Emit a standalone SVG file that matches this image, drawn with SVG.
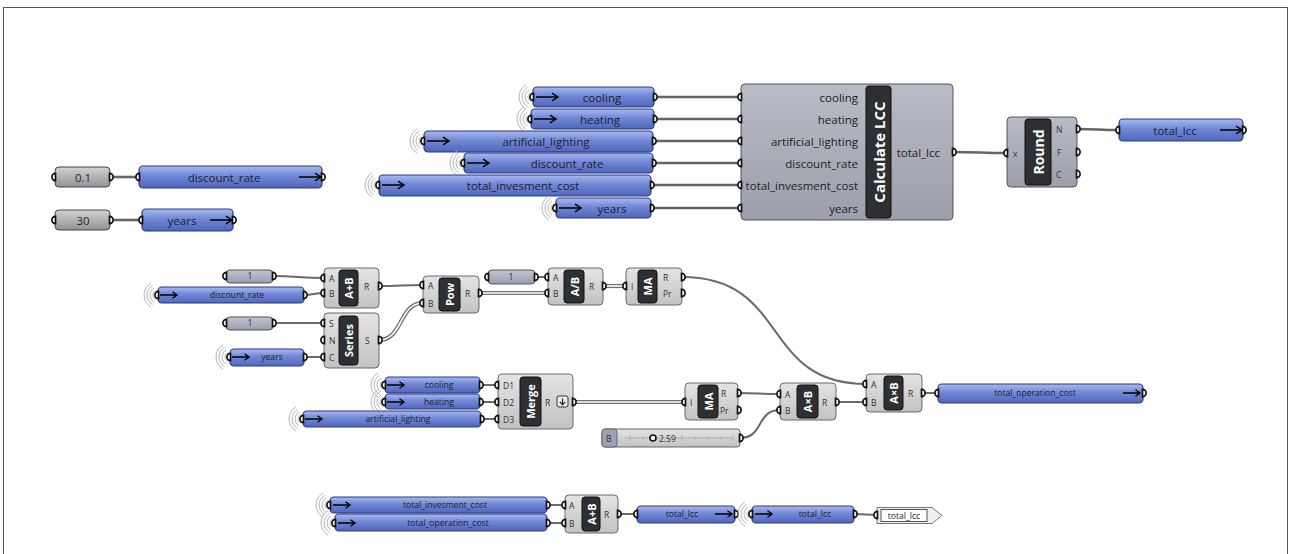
<svg xmlns="http://www.w3.org/2000/svg" width="1291" height="554" viewBox="0 0 1291 554">
<style>
text{font-family:"Open Sans","DejaVu Sans",sans-serif;fill:#1b1f33}
.pt{font-size:11.5px;text-anchor:middle;dominant-baseline:central}
.ps{font-size:8.6px;text-anchor:middle;dominant-baseline:central}
.cl{font-size:11.5px;text-anchor:end;dominant-baseline:central;fill:#222}
.gl{font-size:8.5px;dominant-baseline:central;fill:#333}
.bl{font-weight:bold;fill:#fff;text-anchor:middle;dominant-baseline:central}
.par{fill:url(#gBlue);stroke:#2a3a80;stroke-width:1.2}
.cmp{fill:url(#gComp);stroke:#6a6a6a;stroke-width:1}
.cmpd{fill:url(#gCompD);stroke:#555;stroke-width:1}
.num{fill:url(#gNum);stroke:#444;stroke-width:1}
.one{fill:url(#gOne);stroke:#555;stroke-width:1}
.bar{fill:#2e2f33;stroke:#111;stroke-width:1}
.w{fill:none;stroke:#666;stroke-width:2.6}
.ws{fill:none;stroke:#6a6a6a;stroke-width:2}
.wdo{fill:none;stroke:#707070;stroke-width:4.2}
.wdi{fill:none;stroke:#fff;stroke-width:1.6}
.g{fill:#fff;stroke:#111;stroke-width:1.7}
.ring{fill:none;stroke:#b5b5b5;stroke-width:1}
.ar{fill:none;stroke:#000;stroke-width:1.4}
</style>
<defs>
<linearGradient id="gBlue" x1="0" y1="0" x2="0" y2="1">
<stop offset="0" stop-color="#a9b9ee"/><stop offset="0.45" stop-color="#7187d6"/><stop offset="1" stop-color="#5066bb"/>
</linearGradient>
<linearGradient id="gComp" x1="0" y1="0" x2="0" y2="1">
<stop offset="0" stop-color="#e4e4e4"/><stop offset="1" stop-color="#c2c2c2"/>
</linearGradient>
<linearGradient id="gCompD" x1="0" y1="0" x2="0" y2="1">
<stop offset="0" stop-color="#b9bbc6"/><stop offset="1" stop-color="#9c9eab"/>
</linearGradient>
<linearGradient id="gNum" x1="0" y1="0" x2="0" y2="1">
<stop offset="0" stop-color="#d2d2d2"/><stop offset="1" stop-color="#939393"/>
</linearGradient>
<linearGradient id="gOne" x1="0" y1="0" x2="0" y2="1">
<stop offset="0" stop-color="#c3c5d4"/><stop offset="1" stop-color="#999bb0"/>
</linearGradient>
<g id="rings" class="ring">
<path d="M-2.5,-4.3 A5,5 0 0 0 -2.5,4.3"/>
<path d="M-4,-6.9 A8,8 0 0 0 -4,6.9"/>
<path d="M-5.5,-9.5 A11,11 0 0 0 -5.5,9.5"/>
<path d="M-7,-12.1 A14,14 0 0 0 -7,12.1"/>
</g>
<path id="gi" class="g" d="M0.5,-3.6 A3.6,3.6 0 0 0 0.5,3.6 Z"/>
<path id="go" class="g" d="M-0.5,-3.6 A3.6,3.6 0 0 1 -0.5,3.6 Z"/>
<path id="arr" class="ar" d="M0,0 H22 M16,-3.8 L22,0 L16,3.8"/>
<path id="arrs" class="ar" d="M0,0 H17 M12.5,-3.2 L17,0 L12.5,3.2"/>
</defs>

<rect x="3.5" y="7.5" width="1284" height="600" fill="#fff" stroke="#555" stroke-width="1"/>

<g id="connectors">
<!-- top -->
<path class="w" d="M655,97 H741"/>
<path class="w" d="M655,119 H741"/>
<path class="w" d="M653,141 H741"/>
<path class="w" d="M653,163 H741"/>
<path class="w" d="M651,185 H741"/>
<path class="w" d="M651,208 H741"/>
<path class="w" d="M953,152 C980,152 980,153 1007,153"/>
<path class="w" d="M1077,129 C1098,129 1098,130 1119,130"/>
<path class="w" d="M110,177 H139"/>
<path class="w" d="M110,220 H142"/>
<!-- middle -->
<path class="ws" d="M273,276 C298,276 298,278 324,278"/>
<path class="ws" d="M304,295 C314,295 314,293 324,293"/>
<path class="ws" d="M273,323 H324"/>
<path class="ws" d="M304,357 H324"/>
<path class="ws" d="M379,286 C401,286 401,285 423,285"/>
<path class="wdo" d="M379,340 C403,340 399,303 423,303"/><path class="wdi" d="M379,340 C403,340 399,303 423,303"/>
<path class="wdo" d="M479,293 H548"/><path class="wdi" d="M479,293 H548"/>
<path class="ws" d="M535,277 H548"/>
<path class="wdo" d="M603,286 H626"/><path class="wdi" d="M603,286 H626"/>
<path class="ws" d="M682,277 C790,277 760,384 866,384"/>
<!-- merge row -->
<path class="ws" d="M480,385 H498"/>
<path class="ws" d="M480,402 H498"/>
<path class="ws" d="M481,419 H498"/>
<path class="wdo" d="M573,402 H685"/><path class="wdi" d="M573,402 H685"/>
<path class="ws" d="M738,393 C759,393 759,394 780,394"/>
<path class="ws" d="M740,438 C764,438 756,410 780,410"/>
<path class="ws" d="M836,402 H866"/>
<path class="ws" d="M922,393 H938"/>
<!-- bottom -->
<path class="ws" d="M547,505 H565"/>
<path class="ws" d="M547,523 H565"/>
<path class="ws" d="M618,514 H637"/>
<path class="ws" d="M854,514 C866,514 866,515 877,515"/>
</g>

<!-- top row receivers -->
<g id="p_cooling">
<use href="#rings" x="533" y="97"/>
<rect class="par" x="533" y="87" width="121" height="20" rx="4"/>
<use href="#gi" x="533" y="97"/><use href="#go" x="654" y="97"/>
<use href="#arr" x="536" y="97"/>
<text class="pt" x="602" y="97">cooling</text>
</g>
<g id="p_heating">
<use href="#rings" x="531" y="119"/>
<rect class="par" x="531" y="109" width="123" height="20" rx="4"/>
<use href="#gi" x="531" y="119"/><use href="#go" x="654" y="119"/>
<use href="#arr" x="534" y="119"/>
<text class="pt" x="600" y="119">heating</text>
</g>
<g id="p_artificial_lighting">
<use href="#rings" x="424" y="141"/>
<rect class="par" x="424" y="131" width="229" height="21" rx="4"/>
<use href="#gi" x="424" y="141"/><use href="#go" x="653" y="141"/>
<use href="#arr" x="427" y="141"/>
<text class="pt" x="546" y="141">artificial_lighting</text>
</g>
<g id="p_discount_rate">
<use href="#rings" x="464" y="163"/>
<rect class="par" x="464" y="153" width="189" height="20" rx="4"/>
<use href="#gi" x="464" y="163"/><use href="#go" x="653" y="163"/>
<use href="#arr" x="467" y="163"/>
<text class="pt" x="567" y="163">discount_rate</text>
</g>
<g id="p_total_invesment_cost">
<use href="#rings" x="379" y="185"/>
<rect class="par" x="379" y="175" width="272" height="21" rx="4"/>
<use href="#gi" x="379" y="185"/><use href="#go" x="651" y="185"/>
<use href="#arr" x="382" y="185"/>
<text class="pt" x="523" y="185">total_invesment_cost</text>
</g>
<g id="p_years">
<use href="#rings" x="556" y="208"/>
<rect class="par" x="556" y="198" width="95" height="20" rx="4"/>
<use href="#gi" x="556" y="208"/><use href="#go" x="651" y="208"/>
<use href="#arr" x="559" y="208"/>
<text class="pt" x="612" y="208">years</text>
</g>

<g id="calculate_lcc">
<rect class="cmpd" x="741" y="84" width="212" height="136" rx="4"/>
<rect class="bar" x="866" y="86" width="25" height="132" rx="3"/>
<text class="bl" font-size="15" transform="translate(878.5,152) rotate(-90)">Calculate LCC</text>
<text class="cl" x="858" y="97">cooling</text>
<text class="cl" x="858" y="119">heating</text>
<text class="cl" x="858" y="141">artificial_lighting</text>
<text class="cl" x="858" y="163">discount_rate</text>
<text class="cl" x="858" y="185">total_invesment_cost</text>
<text class="cl" x="858" y="208">years</text>
<text class="cl" x="940" y="152">total_lcc</text>
<use href="#gi" x="741" y="97"/><use href="#gi" x="741" y="119"/><use href="#gi" x="741" y="141"/>
<use href="#gi" x="741" y="163"/><use href="#gi" x="741" y="185"/><use href="#gi" x="741" y="208"/>
<use href="#go" x="953" y="152"/>
</g>

<g id="round">
<rect class="cmpd" x="1007" y="117" width="70" height="70" rx="4"/>
<rect class="bar" x="1025" y="119" width="26" height="66" rx="3"/>
<text class="bl" font-size="14" transform="translate(1038,152) rotate(-90)">Round</text>
<text class="gl" font-size="10" x="1013" y="153">x</text>
<text class="gl" font-size="10" x="1056" y="129">N</text>
<text class="gl" font-size="10" x="1057" y="152">F</text>
<text class="gl" font-size="10" x="1056" y="174">C</text>
<use href="#gi" x="1007" y="153"/>
<use href="#go" x="1077" y="129"/><use href="#go" x="1077" y="152"/><use href="#go" x="1077" y="174"/>
</g>

<g id="p_total_lcc_out">
<rect class="par" x="1119" y="119" width="124" height="22" rx="4"/>
<use href="#gi" x="1119" y="130"/><use href="#go" x="1243" y="130"/>
<use href="#arr" x="1220" y="130"/>
<text class="pt" x="1175" y="130">total_lcc</text>
</g>

<!-- left -->
<g id="n_01">
<rect class="num" x="55" y="167" width="55" height="20" rx="4"/>
<use href="#gi" x="55" y="177"/><use href="#go" x="110" y="177"/>
<text class="pt" x="83" y="177">0.1</text>
</g>
<g id="p_discount_rate_send">
<rect class="par" x="139" y="166" width="183" height="22" rx="4"/>
<use href="#gi" x="139" y="177"/><use href="#go" x="322" y="177"/>
<use href="#arr" x="299" y="177"/>
<text class="pt" x="224" y="177">discount_rate</text>
</g>
<g id="n_30">
<rect class="num" x="55" y="210" width="55" height="20" rx="4"/>
<use href="#gi" x="55" y="220"/><use href="#go" x="110" y="220"/>
<text class="pt" x="83" y="220">30</text>
</g>
<g id="p_years_send">
<rect class="par" x="142" y="209" width="91" height="22" rx="4"/>
<use href="#gi" x="142" y="220"/><use href="#go" x="233" y="220"/>
<use href="#arr" x="210" y="220"/>
<text class="pt" x="182" y="220">years</text>
</g>

<!-- middle -->
<g id="n_1a">
<rect class="one" x="226" y="270" width="47" height="13" rx="4"/>
<use href="#gi" x="226" y="276"/><use href="#go" x="273" y="276"/>
<text class="ps" x="250" y="276">1</text>
</g>
<g id="p_discount_rate_m">
<use href="#rings" x="158" y="295"/>
<rect class="par" x="158" y="287" width="146" height="16" rx="4"/>
<use href="#gi" x="158" y="295"/><use href="#go" x="304" y="295"/>
<use href="#arrs" x="160" y="295"/>
<text class="ps" x="237" y="295">discount_rate</text>
</g>
<g id="n_1b">
<rect class="one" x="226" y="317" width="47" height="13" rx="4"/>
<use href="#gi" x="226" y="323"/><use href="#go" x="273" y="323"/>
<text class="ps" x="250" y="323">1</text>
</g>
<g id="p_years_m">
<use href="#rings" x="230" y="357"/>
<rect class="par" x="230" y="349" width="74" height="17" rx="4"/>
<use href="#gi" x="230" y="357"/><use href="#go" x="304" y="357"/>
<use href="#arrs" x="232" y="357"/>
<text class="ps" x="272" y="357">years</text>
</g>
<g id="addition1">
<rect class="cmp" x="324" y="268" width="55" height="40" rx="4"/>
<rect class="bar" x="339" y="270" width="19" height="36" rx="3"/>
<text class="bl" font-size="11" transform="translate(348.5,288) rotate(-90)">A+B</text>
<text class="gl" x="329" y="278">A</text><text class="gl" x="329" y="293">B</text><text class="gl" x="364" y="286">R</text>
<use href="#gi" x="324" y="278"/><use href="#gi" x="324" y="293"/><use href="#go" x="379" y="286"/>
</g>
<g id="series">
<rect class="cmp" x="324" y="313" width="55" height="55" rx="4"/>
<rect class="bar" x="339" y="316" width="19" height="49" rx="3"/>
<text class="bl" font-size="11" transform="translate(348.5,340.5) rotate(-90)">Series</text>
<text class="gl" x="329" y="323">S</text><text class="gl" x="329" y="340">N</text><text class="gl" x="329" y="357">C</text>
<text class="gl" x="365" y="340">S</text>
<use href="#gi" x="324" y="323"/><use href="#gi" x="324" y="340"/><use href="#gi" x="324" y="357"/><use href="#go" x="379" y="340"/>
</g>
<g id="power">
<rect class="cmp" x="423" y="276" width="56" height="37" rx="4"/>
<rect class="bar" x="439" y="278" width="21" height="33" rx="3"/>
<text class="bl" font-size="11" transform="translate(449.5,294.5) rotate(-90)">Pow</text>
<text class="gl" x="428" y="285">A</text><text class="gl" x="428" y="303">B</text><text class="gl" x="465" y="293">R</text>
<use href="#gi" x="423" y="285"/><use href="#gi" x="423" y="303"/><use href="#go" x="479" y="293"/>
</g>
<g id="n_1c">
<rect class="one" x="488" y="270" width="47" height="14" rx="4"/>
<use href="#gi" x="488" y="277"/><use href="#go" x="535" y="277"/>
<text class="ps" x="511" y="277">1</text>
</g>
<g id="division">
<rect class="cmp" x="548" y="268" width="55" height="37" rx="4"/>
<rect class="bar" x="564" y="270" width="20" height="33" rx="3"/>
<text class="bl" font-size="11" transform="translate(574,286.5) rotate(-90)">A/B</text>
<text class="gl" x="553" y="277">A</text><text class="gl" x="553" y="293">B</text><text class="gl" x="589" y="286">R</text>
<use href="#gi" x="548" y="277"/><use href="#gi" x="548" y="293"/><use href="#go" x="603" y="286"/>
</g>
<g id="mass_addition1">
<rect class="cmp" x="626" y="268" width="56" height="37" rx="4"/>
<rect class="bar" x="638" y="270" width="19" height="33" rx="3"/>
<text class="bl" font-size="11" transform="translate(647.5,286.5) rotate(-90)">MA</text>
<text class="gl" x="631" y="286">I</text><text class="gl" x="663" y="277">R</text><text class="gl" x="663" y="293">Pr</text>
<use href="#gi" x="626" y="286"/><use href="#go" x="682" y="277"/><use href="#go" x="682" y="293"/>
</g>

<!-- merge row -->
<g id="p_cooling_m">
<use href="#rings" x="385" y="385"/>
<rect class="par" x="385" y="377" width="95" height="16" rx="4"/>
<use href="#gi" x="385" y="385"/><use href="#go" x="480" y="385"/>
<use href="#arrs" x="387" y="385"/>
<text class="ps" x="439" y="385">cooling</text>
</g>
<g id="p_heating_m">
<use href="#rings" x="385" y="402"/>
<rect class="par" x="385" y="394" width="95" height="15" rx="4"/>
<use href="#gi" x="385" y="402"/><use href="#go" x="480" y="402"/>
<use href="#arrs" x="387" y="402"/>
<text class="ps" x="439" y="402">heating</text>
</g>
<g id="p_artificial_lighting_m">
<use href="#rings" x="303" y="419"/>
<rect class="par" x="303" y="411" width="178" height="16" rx="4"/>
<use href="#gi" x="303" y="419"/><use href="#go" x="481" y="419"/>
<use href="#arrs" x="305" y="419"/>
<text class="ps" x="398" y="419">artificial_lighting</text>
</g>
<g id="merge">
<rect class="cmp" x="498" y="374" width="75" height="55" rx="4"/>
<rect class="bar" x="520" y="377" width="21" height="49" rx="3"/>
<text class="bl" font-size="11" transform="translate(530.5,401.5) rotate(-90)">Merge</text>
<text class="gl" x="503" y="385">D1</text><text class="gl" x="503" y="402">D2</text><text class="gl" x="503" y="419">D3</text>
<text class="gl" x="545" y="402">R</text>
<rect x="557" y="396" width="11" height="11" rx="2" fill="#eee" stroke="#333" stroke-width="1"/>
<path d="M562.5,398.5 V404.5 M559.8,401.8 L562.5,404.8 L565.2,401.8" fill="none" stroke="#222" stroke-width="1.2"/>
<use href="#gi" x="498" y="385"/><use href="#gi" x="498" y="402"/><use href="#gi" x="498" y="419"/><use href="#go" x="573" y="402"/>
</g>
<g id="mass_addition2">
<rect class="cmp" x="685" y="383" width="53" height="37" rx="4"/>
<rect class="bar" x="698" y="385" width="20" height="33" rx="3"/>
<text class="bl" font-size="11" transform="translate(708,401.5) rotate(-90)">MA</text>
<text class="gl" x="690" y="402">I</text><text class="gl" x="721" y="393">R</text><text class="gl" x="720" y="410">Pr</text>
<use href="#gi" x="685" y="402"/><use href="#go" x="738" y="393"/><use href="#go" x="738" y="410"/>
</g>
<g id="slider">
<rect x="602" y="429" width="138" height="18" rx="3" fill="url(#gComp)" stroke="#666" stroke-width="1"/>
<rect x="602" y="429" width="15" height="18" rx="3" fill="#9fa2b6" stroke="#666" stroke-width="1"/>
<text class="gl" x="606" y="438">B</text>
<path d="M624,438 H733 M630,435 V441 M643,436 V440 M656,436 V440 M669,436 V440 M682,435 V441 M695,436 V440 M708,436 V440 M721,436 V440 M733,435 V441" fill="none" stroke="#b0b0b0" stroke-width="1"/>
<circle cx="653" cy="438" r="3" fill="#fff" stroke="#111" stroke-width="1.6"/>
<text class="gl" font-size="9" x="659" y="438">2.59</text>
<use href="#go" x="740" y="438"/>
</g>
<g id="multiplication1">
<rect class="cmp" x="780" y="383" width="56" height="37" rx="4"/>
<rect class="bar" x="797" y="385" width="21" height="33" rx="3"/>
<text class="bl" font-size="11" transform="translate(807.5,401.5) rotate(-90)">A×B</text>
<text class="gl" x="785" y="394">A</text><text class="gl" x="785" y="410">B</text><text class="gl" x="822" y="402">R</text>
<use href="#gi" x="780" y="394"/><use href="#gi" x="780" y="410"/><use href="#go" x="836" y="402"/>
</g>
<g id="multiplication2">
<rect class="cmp" x="866" y="374" width="56" height="38" rx="4"/>
<rect class="bar" x="884" y="376" width="19" height="34" rx="3"/>
<text class="bl" font-size="11" transform="translate(893.5,393) rotate(-90)">A×B</text>
<text class="gl" x="871" y="384">A</text><text class="gl" x="871" y="402">B</text><text class="gl" x="908" y="393">R</text>
<use href="#gi" x="866" y="384"/><use href="#gi" x="866" y="402"/><use href="#go" x="922" y="393"/>
</g>
<g id="p_total_operation_cost_send">
<rect class="par" x="938" y="384" width="205" height="19" rx="4"/>
<use href="#gi" x="938" y="393"/><use href="#go" x="1143" y="393"/>
<use href="#arrs" x="1123" y="393"/>
<text class="ps" x="1035" y="393">total_operation_cost</text>
</g>

<!-- bottom -->
<g id="p_total_invesment_cost_b">
<use href="#rings" x="330" y="505"/>
<rect class="par" x="330" y="497" width="217" height="16" rx="4"/>
<use href="#gi" x="330" y="505"/><use href="#go" x="547" y="505"/>
<use href="#arrs" x="333" y="505"/>
<text class="ps" x="445" y="505">total_invesment_cost</text>
</g>
<g id="p_total_operation_cost_b">
<use href="#rings" x="335" y="523"/>
<rect class="par" x="335" y="514" width="212" height="17" rx="4"/>
<use href="#gi" x="335" y="523"/><use href="#go" x="547" y="523"/>
<use href="#arrs" x="338" y="523"/>
<text class="ps" x="448" y="523">total_operation_cost</text>
</g>
<g id="addition2">
<rect class="cmp" x="565" y="495" width="53" height="38" rx="4"/>
<rect class="bar" x="582" y="497" width="18" height="34" rx="3"/>
<text class="bl" font-size="11" transform="translate(591,514) rotate(-90)">A+B</text>
<text class="gl" x="569" y="505">A</text><text class="gl" x="569" y="523">B</text><text class="gl" x="604" y="514">R</text>
<use href="#gi" x="565" y="505"/><use href="#gi" x="565" y="523"/><use href="#go" x="618" y="514"/>
</g>
<g id="p_total_lcc_send">
<rect class="par" x="637" y="506" width="98" height="17" rx="4"/>
<use href="#gi" x="637" y="514"/><use href="#go" x="735" y="514"/>
<use href="#arrs" x="715" y="514"/>
<text class="ps" x="682" y="514">total_lcc</text>
</g>
<g id="p_total_lcc_recv">
<use href="#rings" x="752" y="514"/>
<rect class="par" x="752" y="506" width="102" height="17" rx="4"/>
<use href="#gi" x="752" y="514"/><use href="#go" x="854" y="514"/>
<use href="#arrs" x="755" y="514"/>
<text class="ps" x="815" y="514">total_lcc</text>
</g>
<g id="panel">
<path d="M877,507.5 H932 L942,515.5 L932,523.5 H877 Z" fill="#efefef" stroke="#777" stroke-width="1"/>
<rect x="881" y="509.5" width="46" height="12" fill="#fff" stroke="#555" stroke-width="1"/>
<text class="ps" x="904" y="515.5">total_lcc</text>
<use href="#gi" x="877" y="515"/>
</g>
</svg>
